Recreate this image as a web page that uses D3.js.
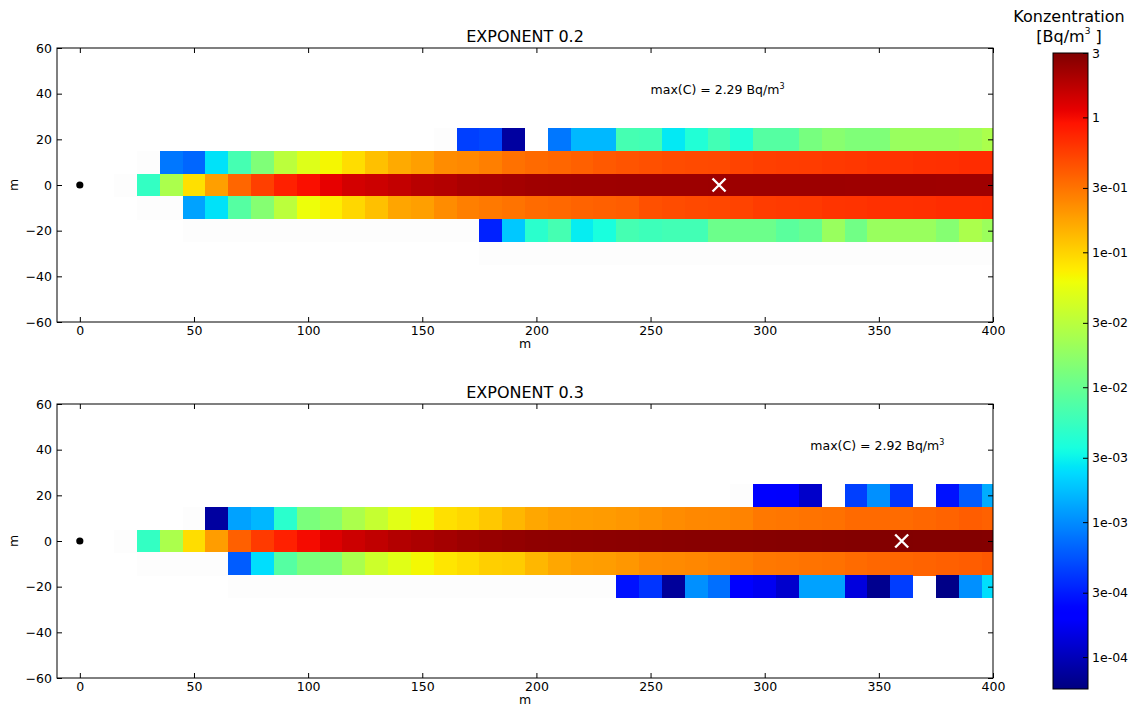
<!DOCTYPE html>
<html><head><meta charset="utf-8">
<script src="https://cdn.jsdelivr.net/npm/d3@7"></script>
<style>body{margin:0;background:#fff} text{font-family:"DejaVu Sans",sans-serif;fill:#000}</style>
</head><body><svg id="c" width="1132" height="706"></svg>
<script>
// ---------------- data ----------------
const N = null;       // no cell
const F = 1e-6;       // cell below colour range (drawn almost white)
const xCenters = [20,30,40,50,60,70,80,90,100,110,120,130,140,150,160,170,180,190,200,210,220,230,240,250,260,270,280,290,300,310,320,330,340,350,360,370,380,390,400];
const rowY = [30,20,10,0,-10,-20,-30];

// EXPONENT 0.2
const top30 = [N,N,N,N,N,N,N,N,N,N,N,N,N,N,N,N,N,N,N,N,N,N,N,N,N,N,N,N,N,N,N,N,N,N,N,N,N,N,N];
const top20 = [N,N,N,N,N,N,N,N,N,N,N,N,N,N,F,4.4e-4,4.8e-4,7.9e-5,N,8e-4,1.6e-3,1.6e-3,6.4e-3,6.2e-3,2.7e-3,4.0e-3,6.2e-3,4.0e-3,7.9e-3,7.9e-3,1.25e-2,1.55e-2,1.38e-2,1.38e-2,1.95e-2,1.95e-2,1.95e-2,2.1e-2,2.46e-2];
const top10 = [N,F,8.0e-4,6.7e-4,2.5e-3,6.4e-3,1.38e-2,3.05e-2,4.8e-2,6.6e-2,8.9e-2,0.125,0.16,0.181,0.225,0.237,0.262,0.31,0.335,0.35,0.375,0.405,0.43,0.45,0.47,0.48,0.49,0.52,0.545,0.56,0.57,0.59,0.6,0.62,0.63,0.65,0.66,0.68,0.68];
const top0 = [F,5.1e-3,2.46e-2,8.65e-2,0.181,0.35,0.545,0.785,0.95,1.135,1.37,1.47,1.59,1.77,1.85,2.02,2.06,2.13,2.22,2.24,2.25,2.26,2.27,2.27,2.28,2.28,2.29,2.28,2.28,2.28,2.27,2.27,2.26,2.26,2.25,2.25,2.24,2.24,2.23];
const topM10 = [N,F,F,1.26e-3,2.5e-3,7.9e-3,1.5e-2,3.05e-2,5.9e-2,7.3e-2,9.5e-2,0.125,0.17,0.181,0.225,0.262,0.28,0.3,0.33,0.34,0.36,0.375,0.39,0.45,0.47,0.49,0.5,0.52,0.57,0.58,0.59,0.62,0.63,0.65,0.65,0.66,0.68,0.68,0.69];
const topM20 = [N,N,N,F,F,F,F,F,F,F,F,F,F,F,F,F,3.2e-4,1.9e-3,4.5e-3,6.4e-3,2.8e-3,3.6e-3,6.4e-3,5.8e-3,6.2e-3,6.2e-3,1.07e-2,1.07e-2,1.07e-2,8.5e-3,1.0e-2,1.95e-2,1.15e-2,1.95e-2,1.95e-2,1.95e-2,1.5e-2,2.46e-2,2.0e-2];
const topM30 = [N,N,N,N,N,N,N,N,N,N,N,N,N,N,N,N,F,F,F,F,F,F,F,F,F,F,F,F,F,F,F,F,F,F,F,F,F,F,F];

// EXPONENT 0.3
const bot30 = [N,N,N,N,N,N,N,N,N,N,N,N,N,N,N,N,N,N,N,N,N,N,N,N,N,N,N,N,N,N,N,N,N,N,N,N,N,N,N];
const bot20 = [N,N,N,N,N,N,N,N,N,N,N,N,N,N,N,N,N,N,N,N,N,N,N,N,N,N,N,F,1.95e-4,1.9e-4,1.16e-4,N,4.4e-4,1.04e-3,3.9e-4,N,2.7e-4,6e-4,1.4e-3];
const bot10 = [N,N,N,F,7.9e-5,1.26e-3,1.58e-3,4.5e-3,1.3e-2,1.55e-2,2.46e-2,3.5e-2,5.03e-2,6.5e-2,8.65e-2,9.5e-2,0.113,0.138,0.165,0.181,0.186,0.19,0.2,0.21,0.225,0.237,0.24,0.25,0.285,0.29,0.3,0.31,0.335,0.335,0.33,0.345,0.36,0.39,0.37];
const bot0 = [F,5.1e-3,2.46e-2,8.9e-2,0.186,0.375,0.58,0.785,1.0,1.25,1.47,1.64,1.85,1.98,2.13,2.3,2.4,2.5,2.59,2.62,2.65,2.68,2.70,2.72,2.74,2.76,2.78,2.80,2.82,2.84,2.86,2.88,2.89,2.91,2.92,2.91,2.90,2.89,2.88];
const botM10 = [N,F,F,F,F,6e-4,2.4e-3,7.9e-3,1.3e-2,1.38e-2,2.4e-2,3.8e-2,5.0e-2,6.5e-2,8.0e-2,9.0e-2,0.105,0.108,0.138,0.165,0.181,0.186,0.2,0.225,0.23,0.24,0.25,0.262,0.285,0.29,0.3,0.31,0.33,0.345,0.35,0.36,0.375,0.39,0.41];
const botM20 = [N,N,N,N,N,F,F,F,F,F,F,F,F,F,F,F,F,F,F,F,F,F,2.7e-4,3.9e-4,7.4e-5,1.04e-3,7.3e-4,1.95e-4,1.7e-4,1.2e-4,1.26e-3,1.26e-3,1.4e-4,6.7e-5,4.3e-4,N,6.2e-5,1.04e-3,2.4e-3];
const botM30 = [N,N,N,N,N,N,N,N,N,N,N,N,N,N,N,N,N,N,N,N,N,N,N,N,N,N,N,N,N,N,N,N,N,N,N,N,N,N,N];

const panelTitles = ["EXPONENT 0.2", "EXPONENT 0.3"];
const maxValues = [2.29, 2.92];
const maxXs = [280, 360];
const annotX = [250, 320];
const annotY = [40, 40];
const xTicks = [0,50,100,150,200,250,300,350,400];
const yTicks = [-60,-40,-20,0,20,40,60];
const cbTicks = [3,1,0.3,0.1,0.03,0.01,0.003,0.001,0.0003,0.0001];
const cbLabels = ["3","1","3e-01","1e-01","3e-02","1e-02","3e-03","1e-03","3e-04","1e-04"];
const vMin = 5.8e-5, vMax = 3;

// ---------------- colour map (matplotlib jet) ----------------
const jetR = [[0,0],[0.35,0],[0.66,1],[0.89,1],[1,0.5]];
const jetG = [[0,0],[0.125,0],[0.375,1],[0.64,1],[0.91,0],[1,0]];
const jetB = [[0,0.5],[0.11,1],[0.34,1],[0.65,0],[1,0]];
function seg(s, t) {
  for (let i = 1; i < s.length; i++) {
    if (t <= s[i][0]) {
      const a = s[i-1], b = s[i];
      return a[1] + (b[1]-a[1]) * (t - a[0]) / (b[0]-a[0]);
    }
  }
  return s[s.length-1][1];
}
function jet(t) {
  t = Math.max(0, Math.min(1, t));
  return d3.rgb(255*seg(jetR,t), 255*seg(jetG,t), 255*seg(jetB,t)).formatHex();
}
const norm = d3.scaleLog().domain([vMin, vMax]).range([0, 1]);
function colour(v) { return v < vMin ? "#fdfdfd" : jet(norm(Math.min(v, vMax))); }

// ---------------- drawing ----------------
const svg = d3.select("#c");
const X0 = 57, X1 = 993;
const panels = [
  {top: 48, bottom: 322, rows: [top30, top20, top10, top0, topM10, topM20, topM30]},
  {top: 404, bottom: 678, rows: [bot30, bot20, bot10, bot0, botM10, botM20, botM30]}
];
const xs = d3.scaleLinear().domain([-10, 400]).range([X0, X1]);

panels.forEach((p, pi) => {
  const ys = d3.scaleLinear().domain([-60, 60]).range([p.bottom, p.top]);
  const g = svg.append("g");
  const clipId = "clip" + pi;
  svg.append("clipPath").attr("id", clipId).append("rect")
    .attr("x", X0).attr("y", p.top).attr("width", X1 - X0).attr("height", p.bottom - p.top);

  const cells = [];
  p.rows.forEach((row, ri) => row.forEach((v, ci) => {
    if (v !== null) cells.push({x: xCenters[ci], y: rowY[ri], v: v});
  }));
  g.append("g").attr("clip-path", `url(#${clipId})`).selectAll("rect").data(cells).join("rect")
    .attr("x", d => xs(d.x - 5))
    .attr("y", d => ys(d.y + 5))
    .attr("width", d => xs(d.x + 5) - xs(d.x - 5) + 0.3)
    .attr("height", d => ys(d.y - 5) - ys(d.y + 5) + 0.3)
    .attr("fill", d => colour(d.v))
    .attr("shape-rendering", "crispEdges");

  // source dot
  g.append("circle").attr("cx", xs(0)).attr("cy", ys(0)).attr("r", 3.6).attr("fill", "#000");
  // max marker
  const mx = xs(maxXs[pi]), my = ys(0), s = 6.5;
  g.append("path").attr("d", `M${mx-s},${my-s}L${mx+s},${my+s}M${mx-s},${my+s}L${mx+s},${my-s}`)
    .attr("stroke", "#fff").attr("stroke-width", 2.4).attr("fill", "none");

  // annotation
  const at = g.append("text").attr("x", xs(annotX[pi])).attr("y", ys(annotY[pi]))
    .attr("font-size", 12.5).text(`max(C) = ${maxValues[pi].toFixed(2)} Bq/m`);
  at.append("tspan").attr("font-size", 8).attr("dy", -5).text("3");

  // frame
  g.append("rect").attr("x", X0).attr("y", p.top).attr("width", X1 - X0).attr("height", p.bottom - p.top)
    .attr("fill", "none").attr("stroke", "#000").attr("stroke-width", 1);

  // axes (inward ticks all four sides)
  const tl = 5;
  const axB = g.append("g").attr("transform", `translate(0,${p.bottom})`)
    .call(d3.axisBottom(xs).tickValues(xTicks).tickSizeInner(-tl).tickSizeOuter(0).tickPadding(4));
  const axT = g.append("g").attr("transform", `translate(0,${p.top})`)
    .call(d3.axisTop(xs).tickValues(xTicks).tickSizeInner(-tl).tickSizeOuter(0).tickFormat(""));
  const axL = g.append("g").attr("transform", `translate(${X0},0)`)
    .call(d3.axisLeft(ys).tickValues(yTicks).tickSizeInner(-tl).tickSizeOuter(0).tickPadding(5)
      .tickFormat(d => d < 0 ? "\u2212" + Math.abs(d) : d));
  const axR = g.append("g").attr("transform", `translate(${X1},0)`)
    .call(d3.axisRight(ys).tickValues(yTicks).tickSizeInner(-tl).tickSizeOuter(0).tickFormat(""));
  [axB, axT, axL, axR].forEach(a => {
    a.select(".domain").remove();
    a.selectAll("text").attr("font-size", 12.5).attr("font-family", "DejaVu Sans").attr("fill", "#000");
    a.selectAll("line").attr("stroke", "#000");
  });

  // labels
  g.append("text").attr("x", (X0 + X1) / 2).attr("y", p.bottom + 26).attr("text-anchor", "middle")
    .attr("font-size", 12.5).text("m");
  g.append("text").attr("transform", `translate(18,${ys(0)}) rotate(-90)`).attr("text-anchor", "middle")
    .attr("font-size", 12.5).text("m");
  g.append("text").attr("x", (X0 + X1) / 2).attr("y", p.top - 6).attr("text-anchor", "middle")
    .attr("font-size", 16).text(panelTitles[pi]);
});

// ---------------- colour bar ----------------
const CB = {x: 1053, w: 35, top: 53, bottom: 689};
const cbScale = d3.scaleLog().domain([vMin, vMax]).range([CB.bottom, CB.top]);
const defs = svg.append("defs");
const grad = defs.append("linearGradient").attr("id", "jetgrad")
  .attr("x1", 0).attr("y1", 1).attr("x2", 0).attr("y2", 0);
d3.range(0, 1.0001, 0.01).forEach(t => grad.append("stop").attr("offset", t).attr("stop-color", jet(t)));
svg.append("rect").attr("x", CB.x).attr("y", CB.top).attr("width", CB.w).attr("height", CB.bottom - CB.top)
  .attr("fill", "url(#jetgrad)").attr("stroke", "#000").attr("stroke-width", 1);
const cbAxis = svg.append("g").attr("transform", `translate(${CB.x + CB.w},0)`)
  .call(d3.axisRight(cbScale).tickValues(cbTicks).tickSizeInner(-5).tickSizeOuter(0).tickPadding(4)
    .tickFormat((d, i) => cbLabels[i]));
cbAxis.select(".domain").remove();
cbAxis.selectAll("text").attr("font-size", 12.5).attr("font-family", "DejaVu Sans").attr("fill", "#000");
cbAxis.selectAll("line").attr("stroke", "#000");

svg.append("text").attr("x", 1069).attr("y", 22).attr("text-anchor", "middle").attr("font-size", 16).text("Konzentration");
const unit = svg.append("text").attr("x", 1069).attr("y", 42).attr("text-anchor", "middle").attr("font-size", 16);
unit.append("tspan").text("[Bq/m");
unit.append("tspan").attr("font-size", 9).attr("dy", -8).text("3");
unit.append("tspan").attr("dy", 8).text(" ]");
</script></body></html>
